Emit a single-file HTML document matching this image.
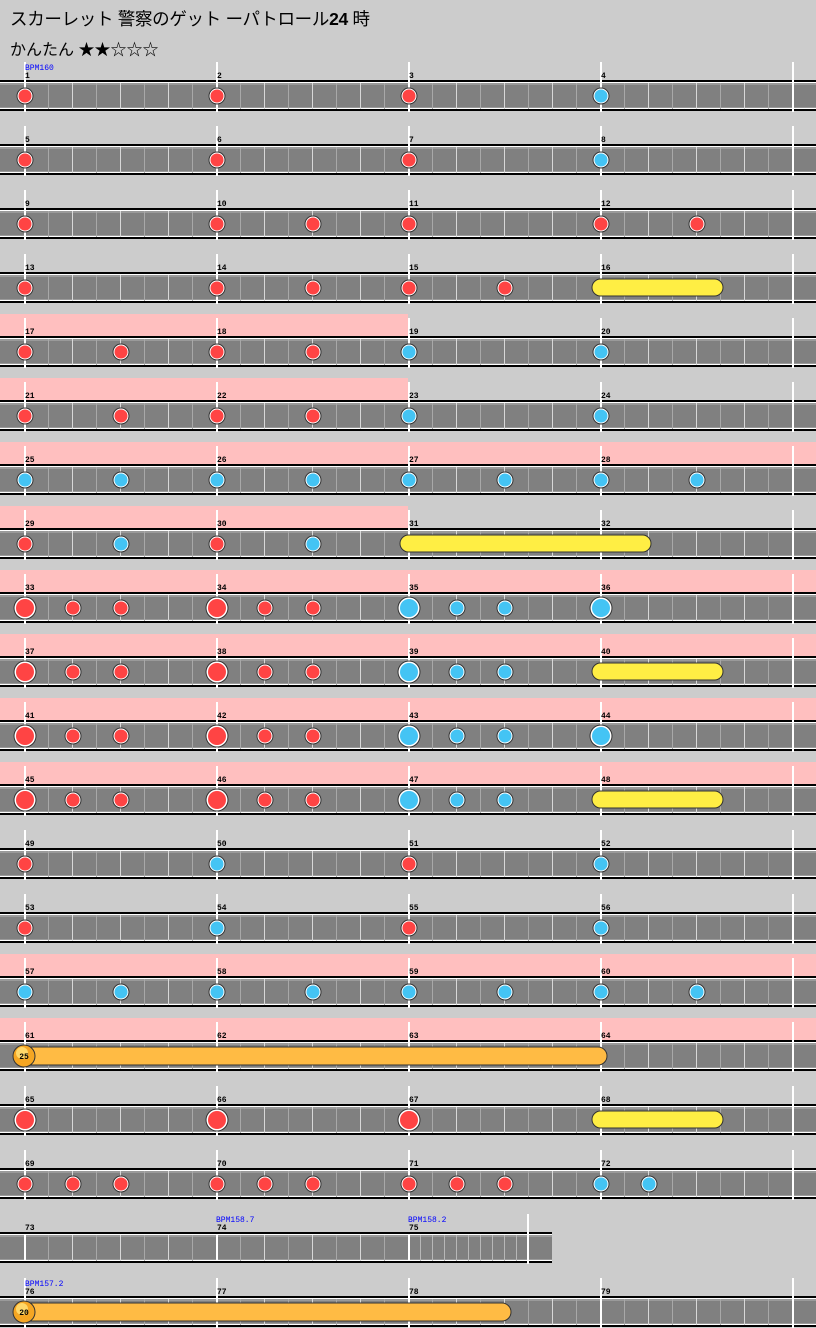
<!DOCTYPE html>
<html><head><meta charset="utf-8"><style>
html,body{margin:0;padding:0;background:#cccccc;width:816px;height:1328px;overflow:hidden}
#t1{position:absolute;left:10px;top:6px;font:17.5px "Liberation Sans","Noto Sans CJK JP",sans-serif;color:#000;letter-spacing:-0.3px}
#t2{position:absolute;left:10px;top:36px;font:16px "Liberation Sans","Noto Sans CJK JP",sans-serif;color:#000}
svg{position:absolute;left:0;top:0}
</style></head><body>
<div id="t1">スカーレット 警察のゲット ーパトロール<b>24</b> 時</div>
<div id="t2">かんたん ★★☆☆☆</div>
<svg id="s" width="816" height="1328" xmlns="http://www.w3.org/2000/svg"></svg>
<script>
var S=[];
var rows=[
{p:0,n:"r24 r216 r408 b600"},
{p:0,n:"r24 r216 r408 b600"},
{p:0,n:"r24 r216 r312 r408 r600 r696"},
{p:0,n:"r24 r216 r312 r408 r504",y:[592,723]},
{p:408,n:"r24 r120 r216 r312 b408 b600"},
{p:408,n:"r24 r120 r216 r312 b408 b600"},
{p:816,n:"b24 b120 b216 b312 b408 b504 b600 b696"},
{p:408,n:"r24 b120 r216 b312",y:[400,651]},
{p:816,n:"R24 r72 r120 R216 r264 r312 B408 b456 b504 B600"},
{p:816,n:"R24 r72 r120 R216 r264 r312 B408 b456 b504",y:[592,723]},
{p:816,n:"R24 r72 r120 R216 r264 r312 B408 b456 b504 B600"},
{p:816,n:"R24 r72 r120 R216 r264 r312 B408 b456 b504",y:[592,723]},
{p:0,n:"r24 b216 r408 b600"},
{p:0,n:"r24 b216 r408 b600"},
{p:816,n:"b24 b120 b216 b312 b408 b504 b600 b696"},
{p:816,n:"",bal:[607,"25"]},
{p:0,n:"R24 R216 R408",y:[592,723]},
{p:0,n:"r24 r72 r120 r216 r264 r312 r408 r456 r504 b600 b648"},
{p:0,n:"",short:1},
{p:0,n:"",bal:[511,"20"]}
];
var m=1;
rows.forEach(function(r,k){
 var c=96+64*k, W=r.short?552:816;
 if(r.p)S.push('<rect x="0" y="'+(c-38)+'" width="'+r.p+'" height="22" fill="#ffbfbf"/>');
 S.push('<rect x="0" y="'+(c-16)+'" width="'+W+'" height="2" fill="#000"/>');
 S.push('<rect x="0" y="'+(c-14)+'" width="'+W+'" height="1" fill="#fff"/>');
 S.push('<rect x="0" y="'+(c-13)+'" width="'+W+'" height="26" fill="#9a9a9a"/>');
 S.push('<rect x="0" y="'+(c-11)+'" width="'+W+'" height="22" fill="#808080"/>');
 S.push('<rect x="0" y="'+(c+12)+'" width="'+W+'" height="1" fill="#fff"/>');
 S.push('<rect x="0" y="'+(c+13)+'" width="'+W+'" height="2" fill="#000"/>');
 if(!r.short){
  for(var x=48;x<816;x+=24){ if((x-24)%192==0)continue;
   var q=((x-24)%48==0);
   S.push('<rect x="'+x+'" y="'+(c-13)+'" width="1" height="26" fill="'+(q?'#d8d8d8':'#a8a8a8')+'"/>');}
  [24,216,408,600,792].forEach(function(x){
   S.push('<rect x="'+x+'" y="'+(c-34)+'" width="2" height="50" fill="#fff"/>');});
  for(var i=0;i<4;i++){S.push('<text x="'+(25+192*i)+'" y="'+(c-18)+'" font-family="Liberation Mono,monospace" font-size="8" font-weight="bold" fill="#000">'+(m++)+'</text>');}
 } else {
  for(var x=48;x<408;x+=24){ if((x-24)%192==0)continue;var q=((x-24)%48==0);
   S.push('<rect x="'+x+'" y="'+(c-13)+'" width="1" height="26" fill="'+(q?'#d8d8d8':'#a8a8a8')+'"/>');}
  [24,216,408].forEach(function(x){S.push('<rect x="'+x+'" y="'+(c-13)+'" width="2" height="26" fill="#fff"/>');});
  for(var x=420;x<527;x+=12)S.push('<rect x="'+x+'" y="'+(c-13)+'" width="1" height="26" fill="#b8b8b8"/>');
  S.push('<rect x="527" y="'+(c-34)+'" width="2" height="50" fill="#fff"/>');
  for(var i=0;i<3;i++){S.push('<text x="'+(25+192*i)+'" y="'+(c-18)+'" font-family="Liberation Mono,monospace" font-size="8" font-weight="bold" fill="#000">'+(m++)+'</text>');}
  S.push('<text x="216" y="'+(c-26)+'" font-family="Liberation Mono,monospace" font-size="8" fill="#00f">BPM158.7</text>');
  S.push('<text x="408" y="'+(c-26)+'" font-family="Liberation Mono,monospace" font-size="8" fill="#00f">BPM158.2</text>');
 }
 if(k==0)S.push('<text x="25" y="'+(c-26)+'" font-family="Liberation Mono,monospace" font-size="8" fill="#00f">BPM160</text>');
 if(k==19)S.push('<text x="25" y="'+(c-26)+'" font-family="Liberation Mono,monospace" font-size="8" fill="#00f">BPM157.2</text>');
 if(r.y){var a=r.y[0],b=r.y[1];
  S.push('<rect x="'+a+'" y="'+(c-9)+'" width="'+(b-a)+'" height="17" rx="8.5" fill="#ffee44" stroke="#333" stroke-width="1"/>');}
 if(r.bal){var b=r.bal[0];
  S.push('<rect x="20" y="'+(c-9)+'" width="'+(b-20)+'" height="18" rx="9" fill="#ffbb44" stroke="#333" stroke-width="1"/>');
  S.push('<circle cx="24" cy="'+c+'" r="11" fill="#f5a623" stroke="#333" stroke-width="1"/>');
  S.push('<circle cx="22" cy="'+(c-3)+'" r="6" fill="#ffd86a"/>');
  S.push('<text x="24" y="'+(c+3)+'" text-anchor="middle" font-family="Liberation Mono,monospace" font-size="8" font-weight="bold" fill="#000">'+r.bal[1]+'</text>');}
 r.n.split(" ").filter(Boolean).forEach(function(t){
  var ty=t[0],x=+t.slice(1),big=(ty=="R"||ty=="B"),col=(ty.toLowerCase()=="r")?"#ff4444":"#44c4f4";
  var R=big?11.5:8.5;
  S.push('<circle cx="'+(x+1)+'" cy="'+c+'" r="'+R+'" fill="#333"/>');
  S.push('<circle cx="'+(x+1)+'" cy="'+c+'" r="'+(R-1)+'" fill="#fff"/>');
  S.push('<circle cx="'+(x+1)+'" cy="'+c+'" r="'+(R-(big?2.5:2))+'" fill="'+col+'"/>');
 });
});
document.getElementById('s').innerHTML=S.join('');
</script>
</body></html>
